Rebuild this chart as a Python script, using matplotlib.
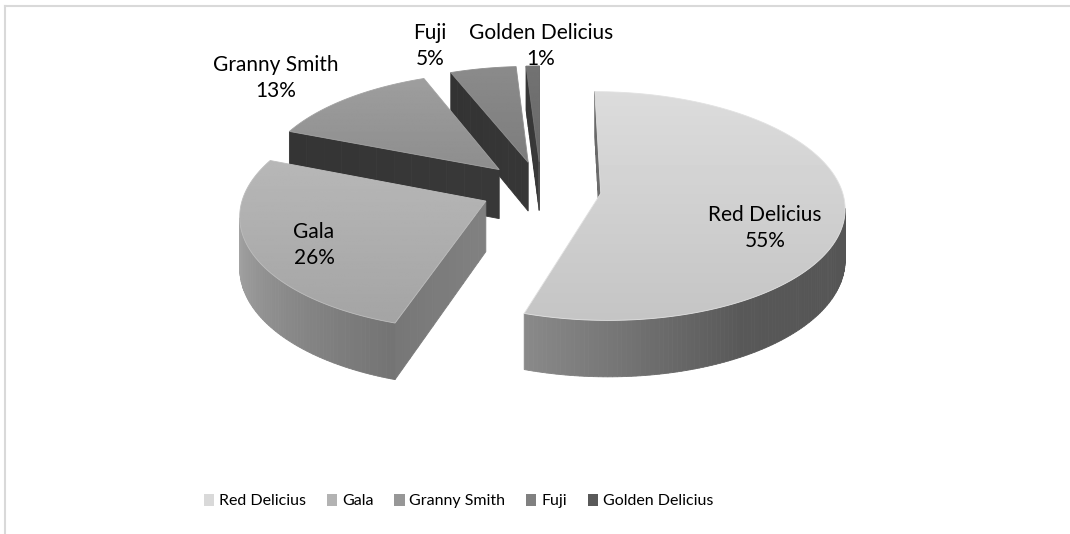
import numpy as np
import matplotlib
matplotlib.use("Agg")
import matplotlib.pyplot as plt
from matplotlib.patches import Polygon, Patch
from matplotlib.lines import Line2D

# ---- data -------------------------------------------------------------
names = ["Red Delicius", "Gala", "Granny Smith", "Fuji", "Golden Delicius"]
values = [55, 26, 13, 5, 1]

# ---- style ------------------------------------------------------------
top_gray = [0.82, 0.685, 0.59, 0.52, 0.43]           # top-face base grey
legend_gray = ["#d9d9d9", "#b3b3b3", "#979797", "#808080", "#595959"]
label_xy = [(765, 228), (314, 245), (276, 78), (430, 46), (541, 46)]
FONT = "Lato"

W, H = 1070, 534
fig = plt.figure(figsize=(W / 100, H / 100), dpi=100)
fig.patch.set_facecolor("white")
ax = fig.add_axes([0, 0, 1, 1])
ax.set_xlim(0, W)
ax.set_ylim(H, 0)
ax.axis("off")

# ---- 3-D pie geometry (screen units) ----------------------------------
CX, CY = 541, 189      # pie centre
RX, RY = 241, 112      # radii of the top ellipse
THICK = 50             # wall height
PERSP = 0.11           # perspective strength
EXPLODE = 0.25         # radial offset of every slice (fraction of radius)


def project(u, v, z):
    u = np.asarray(u, float)
    v = np.asarray(v, float)
    s = 1.0 / (1.0 - PERSP * v)
    return np.column_stack([CX + RX * u * s, CY + (RY * v + THICK * z) * s])


def rim(theta, ou, ov):
    t = np.radians(theta)
    return np.sin(t) + ou, -np.cos(t) + ov


def signed_area(p):
    x, y = p[:, 0], p[:, 1]
    return 0.5 * np.sum(x * np.roll(y, -1) - np.roll(x, -1) * y)


def outer_shade(theta):
    return np.interp(theta, [90, 150, 198, 265, 360], [0.40, 0.42, 0.66, 0.95, 0.95])


def radial_shade(normal):
    normal = normal % 360
    return np.interp(normal, [100, 200, 250, 275], [0.74, 0.36, 0.40, 0.55])


def gray(level):
    level = float(np.clip(level, 0, 1))
    return (level, level, level)


total = float(sum(values))
bounds = np.concatenate([[0], np.cumsum(values)]) / total * 360.0

slices = []
for i, (a0, a1) in enumerate(zip(bounds[:-1], bounds[1:])):
    mid = 0.5 * (a0 + a1)
    ou = EXPLODE * np.sin(np.radians(mid))
    ov = -EXPLODE * np.cos(np.radians(mid))
    depth = ov - 0.5 * np.cos(np.radians(mid))
    slices.append((depth, i, a0, a1, ou, ov))

slices.sort()
z = 1
for depth, i, a0, a1, ou, ov in slices:
    base = top_gray[i]
    n = max(3, int(np.ceil((a1 - a0) / 1.0)) + 1)
    th = np.linspace(a0, a1, n)
    ru, rv = rim(th, ou, ov)
    top_arc = project(ru, rv, 0)
    bot_arc = project(ru, rv, 1)
    apex_t = project([ou], [ov], 0)[0]
    apex_b = project([ou], [ov], 1)[0]

    # radial cut faces
    for face, normal in (
        (np.array([apex_t, top_arc[0], bot_arc[0], apex_b]), a0 - 90),
        (np.array([top_arc[-1], apex_t, apex_b, bot_arc[-1]]), a1 + 90),
    ):
        if signed_area(face) < 0:
            shade = radial_shade(normal)
            m = 12
            for k in range(m):
                f0, f1 = k / m, (k + 1) / m
                p0t = face[0] + (face[1] - face[0]) * f0
                p1t = face[0] + (face[1] - face[0]) * f1
                p0b = face[3] + (face[2] - face[3]) * f0
                p1b = face[3] + (face[2] - face[3]) * f1
                c = gray(base * shade * (1.0 + 0.08 * (0.5 - (f0 + f1) / 2)))
                ax.add_patch(Polygon([p0t, p1t, p1b, p0b], closed=True,
                                     facecolor=c, edgecolor=c, lw=0.6, zorder=z))
    z += 1

    # curved outer wall, one strip per step
    for k in range(n - 1):
        quad = np.array([top_arc[k], top_arc[k + 1], bot_arc[k + 1], bot_arc[k]])
        if signed_area(quad) < 0:
            c = gray(base * outer_shade(0.5 * (th[k] + th[k + 1])))
            ax.add_patch(Polygon(quad, closed=True, facecolor=c, edgecolor=c,
                                 lw=0.6, zorder=z))
    z += 1

    # top face with a soft vertical gradient
    poly = np.vstack([apex_t, top_arc])
    patch = Polygon(poly, closed=True, facecolor="none", edgecolor="none", zorder=z)
    ax.add_patch(patch)
    x0, x1 = poly[:, 0].min() - 1, poly[:, 0].max() + 1
    y0, y1 = poly[:, 1].min() - 1, poly[:, 1].max() + 1
    grad = np.linspace(base * 1.05, base * 0.94, 64)[:, None] * np.ones((1, 2))
    im = ax.imshow(grad, cmap="gray", vmin=0, vmax=1, extent=(x0, x1, y1, y0),
                   origin="upper", interpolation="bilinear", aspect="auto", zorder=z)
    im.set_clip_path(patch)
    ax.add_patch(Polygon(poly, closed=True, facecolor="none",
                         edgecolor=gray(min(1, base * 1.08)), lw=0.6, zorder=z + 0.5))
    z += 1

ax.set_xlim(0, W)
ax.set_ylim(H, 0)

# ---- data labels ------------------------------------------------------
for name, val, (lx, ly) in zip(names, values, label_xy):
    pct = val / total * 100
    ax.text(lx, ly, f"{name}\n{pct:.0f}%", ha="center", va="center",
            family=FONT, fontsize=15, color="#000000", linespacing=1.35, zorder=100)

# ---- legend -----------------------------------------------------------
handles = [Patch(facecolor=c, edgecolor="none") for c in legend_gray]
fig.legend(handles, names, loc="center", bbox_to_anchor=(458.5 / W, 1 - 501 / H),
           ncol=5, frameon=False, prop={"family": FONT, "size": 11.5},
           handlelength=0.65, handleheight=0.85, handletextpad=0.3,
           columnspacing=1.3, borderpad=0, borderaxespad=0)

# ---- chart-area border (top and left edges) ----------------------------
fig.add_artist(Line2D([4.5 / W, 1], [1 - 6 / H, 1 - 6 / H], color="#d9d9d9",
                      lw=1.5, transform=fig.transFigure))
fig.add_artist(Line2D([4.5 / W, 4.5 / W], [1 - 6 / H, 1 - 533 / H], color="#d9d9d9",
                      lw=1.5, transform=fig.transFigure))

fig.savefig("out.png", dpi=100, facecolor="white")
